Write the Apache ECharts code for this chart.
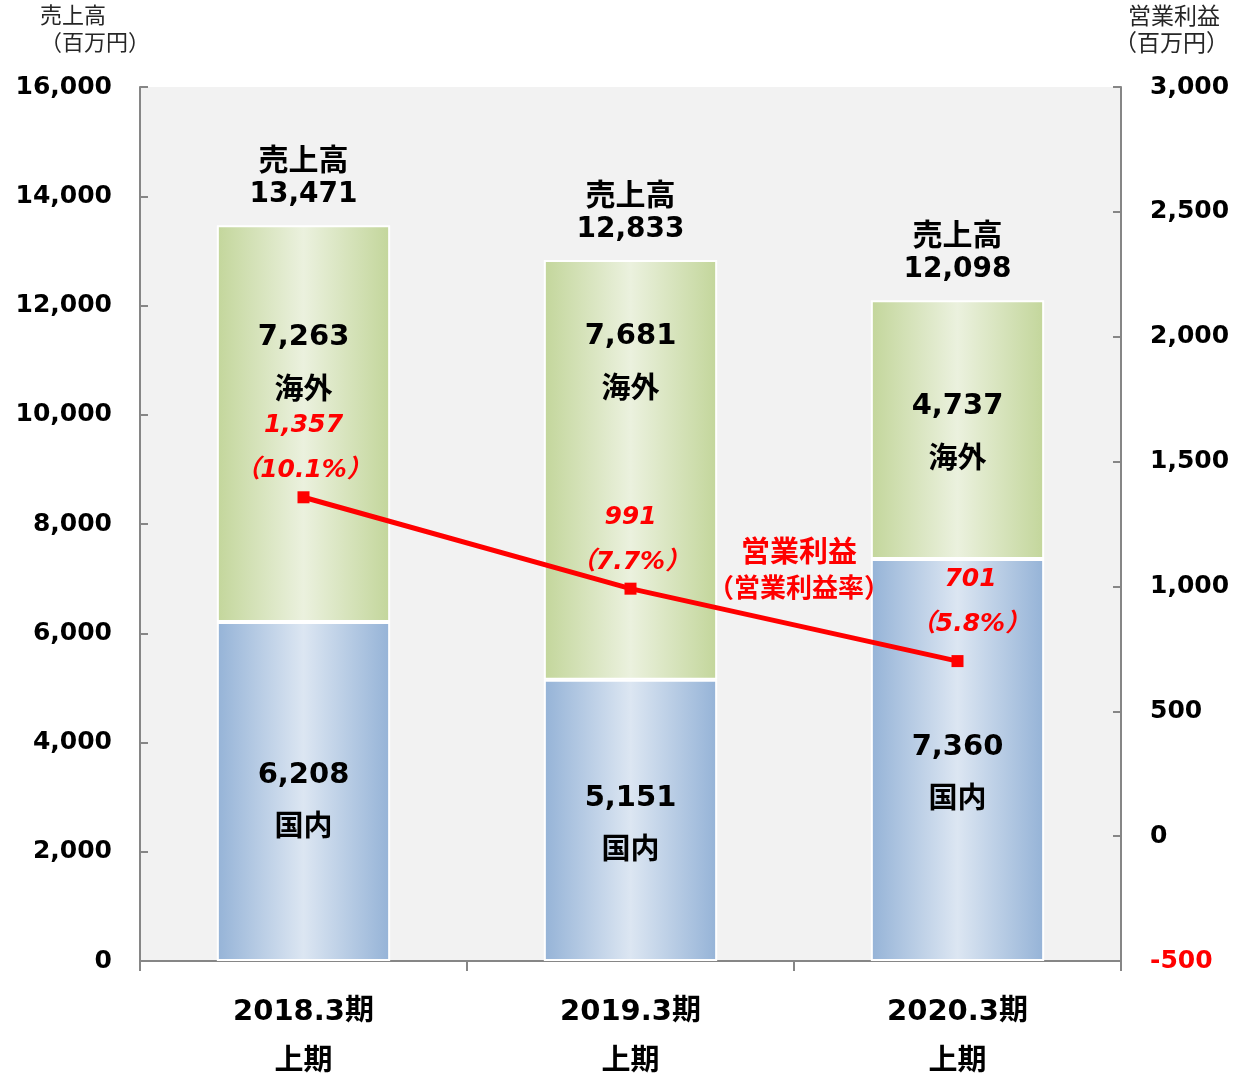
<!DOCTYPE html>
<html>
<head>
<meta charset="utf-8">
<script src="https://cdn.jsdelivr.net/npm/echarts@6/dist/echarts.min.js"></script>
<style>
  html, body { margin: 0; padding: 0; background: #fff; }
  #chart { width: 1237px; height: 1077px; }
</style>
</head>
<body>
<div id="chart"></div>
<script>
// データ
const categories = ['2018.3期\n上期', '2019.3期\n上期', '2020.3期\n上期']
const domestic = [6208, 5151, 7360]     // 国内
const overseas = [7263, 7681, 4737]     // 海外
const totals = [13471, 12833, 12098]    // 売上高
const profit = [1357, 991, 701]         // 営業利益
const profitRate = [10.1, 7.7, 5.8]     // 営業利益率(%)

// ラベル位置の微調整
const overseasLabelDy = [-61, -108, 2]
const domesticLabelDy = [9, 3, 12]
const profitLabelOffset = [[0, 0], [0, 0], [13, -10]]

const FONT = '"DejaVu Sans", "Noto Sans CJK JP", sans-serif'
const CJK = '"Noto Sans CJK JP", sans-serif'
const fmt = v => v.toLocaleString('en-US')

const grad = (edge, mid) => new echarts.graphic.LinearGradient(0, 0, 1, 0, [
  { offset: 0, color: edge },
  { offset: 0.5, color: mid },
  { offset: 1, color: edge }
])

const segLabel = (name) => ({
  show: true,
  position: 'inside',
  formatter: p => '{v|' + fmt(p.value) + '}\n{n|' + name + '}',
  rich: {
    v: { fontFamily: FONT, fontSize: 29, fontWeight: 'bold', color: '#000', lineHeight: 50 },
    n: { fontFamily: CJK, fontSize: 29, fontWeight: 'bold', color: '#000', lineHeight: 50 }
  }
})

const axisLineStyle = { color: '#868686', width: 2 }

const chart = echarts.init(document.getElementById('chart'))
chart.setOption({
  animation: false,
  grid: {
    left: 140, right: 116, top: 87, bottom: 116,
    outerBoundsMode: 'none',
    show: true, backgroundColor: '#f2f2f2', borderWidth: 0
  },
  xAxis: {
    type: 'category',
    data: categories,
    axisLine: { lineStyle: axisLineStyle },
    axisTick: { show: true, length: 10, lineStyle: axisLineStyle },
    axisLabel: {
      margin: 26, fontFamily: FONT, fontSize: 29, fontWeight: 'bold',
      color: '#000', lineHeight: 50
    }
  },
  yAxis: [
    {
      type: 'value', min: 0, max: 16000, interval: 2000,
      axisLine: { show: true, lineStyle: axisLineStyle },
      axisTick: { show: true, inside: true, length: 8, lineStyle: axisLineStyle },
      splitLine: { show: false },
      axisLabel: {
        margin: 28, fontFamily: FONT, fontSize: 25, fontWeight: 'bold',
        color: '#000', formatter: v => fmt(v)
      }
    },
    {
      type: 'value', min: -500, max: 3000, interval: 500,
      axisLine: { show: true, lineStyle: axisLineStyle },
      axisTick: { show: true, inside: true, length: 8, lineStyle: axisLineStyle },
      splitLine: { show: false },
      axisLabel: {
        margin: 29, fontFamily: FONT, fontSize: 25, fontWeight: 'bold',
        color: v => (Number(v) < 0 ? '#ff0000' : '#000'), formatter: v => fmt(v)
      }
    }
  ],
  series: [
    {
      name: '国内', type: 'bar', stack: 'sales', barWidth: '53%',
      data: domestic.map((v, i) => ({ value: v, label: { offset: [0, domesticLabelDy[i]] } })),
      itemStyle: { color: grad('#95b3d7', '#dce6f2'), borderColor: '#fff', borderWidth: 2 },
      label: segLabel('国内')
    },
    {
      name: '海外', type: 'bar', stack: 'sales',
      data: overseas.map((v, i) => ({ value: v, label: { offset: [0, overseasLabelDy[i]] } })),
      itemStyle: { color: grad('#c3d69b', '#ebf1de'), borderColor: '#fff', borderWidth: 2 },
      label: segLabel('海外')
    },
    {
      name: '売上高', type: 'scatter', data: totals,
      symbolSize: 1, itemStyle: { color: 'rgba(0,0,0,0)', opacity: 1 },
      label: {
        show: true, position: 'top', distance: 12, color: '#000',
        formatter: p => '{n|売上高}\n{v|' + fmt(p.value) + '}',
        rich: {
          n: { fontFamily: CJK, fontSize: 30, fontWeight: 'bold', color: '#000', lineHeight: 36 },
          v: { fontFamily: FONT, fontSize: 28, fontWeight: 'bold', color: '#000', lineHeight: 36 }
        }
      },
      z: 5
    },
    {
      name: '営業利益', type: 'line', yAxisIndex: 1,
      data: profit.map((v, i) => ({ value: v, label: { offset: profitLabelOffset[i] } })),
      symbol: 'rect', symbolSize: 12,
      lineStyle: { color: '#ff0000', width: 5 },
      itemStyle: { color: '#ff0000' },
      label: {
        show: true, position: 'top', distance: -2,
        formatter: p => '{v|' + fmt(p.value) + '}\n{r|（' + profitRate[p.dataIndex].toFixed(1) + '%）}',
        rich: {
          v: { fontFamily: FONT, fontSize: 25, fontWeight: 'bold', fontStyle: 'italic', color: '#ff0000', lineHeight: 45 },
          r: { fontFamily: FONT, fontSize: 25, fontWeight: 'bold', fontStyle: 'italic', color: '#ff0000', lineHeight: 45 }
        }
      },
      z: 10
    }
  ],
  graphic: [
    { type: 'text', left: 40, top: 4, style: { text: '売上高', font: '22px ' + CJK, fill: '#262626' } },
    { type: 'text', left: 40, top: 31, style: { text: '（百万円）', font: '22px ' + CJK, fill: '#262626' } },
    { type: 'text', left: 1128, top: 4, style: { text: '営業利益', font: '23px ' + CJK, fill: '#262626' } },
    { type: 'text', left: 1114, top: 31, style: { text: '（百万円）', font: '23px ' + CJK, fill: '#262626' } },
    {
      type: 'text', left: 708, top: 536, z: 100,
      style: {
        text: '{a|営業利益}\n{b|（営業利益率）}',
        align: 'center',
        rich: {
          a: { font: 'bold 29px ' + CJK, fill: '#ff0000', lineHeight: 37, align: 'center', width: 180 },
          b: { font: 'bold 26px ' + CJK, fill: '#ff0000', lineHeight: 37, align: 'center', width: 180 }
        }
      }
    }
  ]
})
</script>
</body>
</html>
